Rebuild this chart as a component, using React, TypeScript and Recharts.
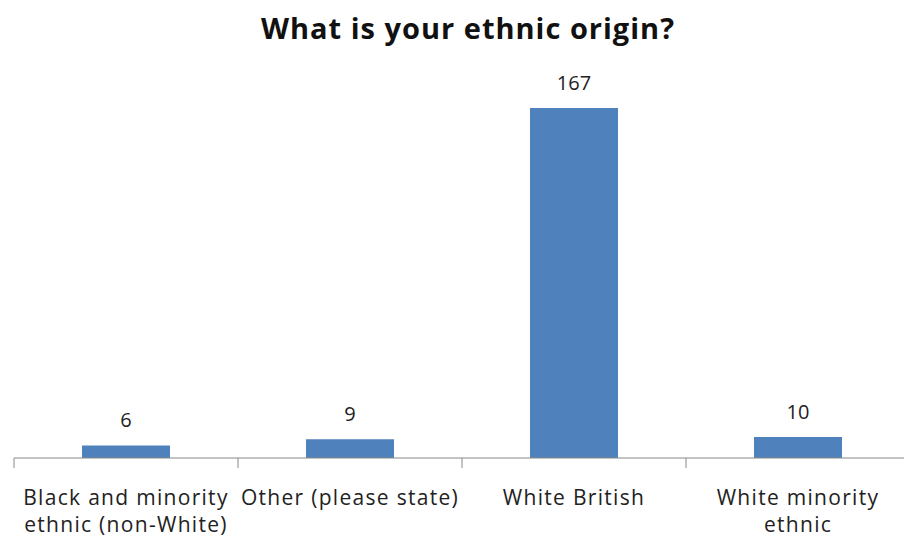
import { BarChart, Bar, XAxis, YAxis, LabelList } from 'recharts';

const categories = ['Black and minority ethnic (non-White)', 'Other (please state)', 'White British', 'White minority ethnic'];
const counts = [6, 9, 167, 10];
// tick labels as they wrap in the picture
const tickLines = [
  ['Black and minority', 'ethnic (non-White)'],
  ['Other (please state)'],
  ['White British'],
  ['White minority', 'ethnic'],
];

const data = categories.map((name, i) => ({ name, value: counts[i] }));

const font = '"Open Sans", "DejaVu Sans", sans-serif';
const band = 224; // width of one category slot, ticks sit on its edges

function CategoryTick(props: any) {
  const { x, y, index } = props;
  const last = index === categories.length - 1;
  const lines = tickLines[index] || [];
  return (
    <g>
      <line x1={x - band / 2} y1={y - 8} x2={x - band / 2} y2={y + 2} stroke="#888" />
      {last && <line x1={x + band / 2} y1={y - 8} x2={x + band / 2} y2={y + 2} stroke="#888" />}
      <text x={x} y={y + 39} textAnchor="middle" fontSize={21} letterSpacing={1.3} fontFamily={font} fill="#222">
        {lines.map((l, i) => (
          <tspan key={i} x={x} dy={i === 0 ? 0 : 27}>{l}</tspan>
        ))}
      </text>
    </g>
  );
}

export default function App() {
  return (
    <div style={{ position: 'absolute', left: 0, top: 0, width: 904, height: 539, overflow: 'hidden', background: '#fff' }}>
      <div style={{ position: 'absolute', left: 16, top: 8, width: 904, textAlign: 'center', fontFamily: font, fontWeight: 700, fontSize: 29, letterSpacing: 1, color: '#111' }}>
        What is your ethnic origin?
      </div>
      <BarChart width={920} height={539} data={data} margin={{ top: 108, right: 10, bottom: 0, left: 14 }} barSize={88}>
        <XAxis
          dataKey="name"
          interval={0}
          height={81}
          stroke="#888"
          tickLine={false}
          tick={<CategoryTick />}
        />
        <YAxis hide domain={[0, 167]} />
        <Bar dataKey="value" fill="#4F81BD" isAnimationActive={false}>
          <LabelList dataKey="value" position="top" offset={18} fontSize={20} fontFamily={font} fill="#222" />
        </Bar>
      </BarChart>
    </div>
  );
}
